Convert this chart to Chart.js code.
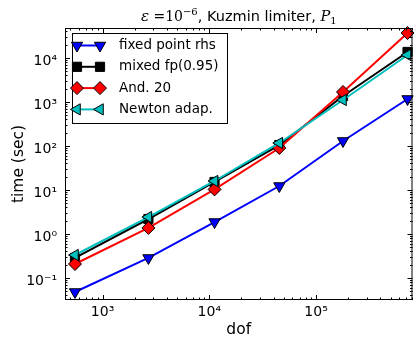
<!DOCTYPE html>
<html>
<head>
<meta charset="utf-8">
<script src="https://cdn.jsdelivr.net/npm/chart.js@4/dist/chart.umd.min.js"></script>
<style>
  html, body { margin: 0; padding: 0; background: #fff; }
</style>
</head>
<body>
<canvas id="timingChart" width="420" height="339"></canvas>
<script>
// degrees of freedom per refinement level
const dof = [552, 2690, 11200, 45300, 179000, 720000];

// wall time (sec) for each solver
const fixedPointRhs = [0.048, 0.285, 1.87, 12.3, 130, 1170];
const mixedFp = [0.285, 2.19, 15.2, 105, 1370, 13700];
const anderson20 = [0.208, 1.37, 10.3, 90, 1690, 37000];
const newtonAdap = [0.333, 2.43, 16, 117, 1110, 11700];

const xTicks = [1e3, 1e4, 1e5];
const yTicks = [1e-1, 1e0, 1e1, 1e2, 1e3, 1e4];

const SUP = { '0': '⁰', '1': '¹', '2': '²', '3': '³', '4': '⁴', '5': '⁵', '6': '⁶', '7': '⁷', '8': '⁸', '9': '⁹', '-': '⁻' };
function powerLabel(v) {
  const e = Math.round(Math.log10(v));
  return '10' + String(e).split('').map(c => SUP[c]).join('');
}

function series(values) {
  return values.map((v, i) => ({ x: dof[i], y: v }));
}

// inward major/minor ticks on all four sides, plus the frame
const frameTicks = {
  id: 'frameTicks',
  afterDatasetsDraw(chart) {
    const { ctx, chartArea: a, scales } = chart;
    ctx.save();
    ctx.strokeStyle = '#000';
    ctx.lineWidth = 1;
    ctx.strokeRect(a.left + 0.5, a.top + 0.5, a.right - a.left - 1, a.bottom - a.top - 1);

    const drawAxis = (scale, horizontal) => {
      const lo = Math.floor(Math.log10(scale.min));
      const hi = Math.ceil(Math.log10(scale.max));
      for (let e = lo; e <= hi; e++) {
        for (let m = 1; m < 10; m++) {
          const v = m * Math.pow(10, e);
          if (v < scale.min || v > scale.max) continue;
          const p = Math.round(scale.getPixelForValue(v)) + 0.5;
          const len = m === 1 ? 5 : 2.5;
          ctx.beginPath();
          if (horizontal) {
            ctx.moveTo(p, a.bottom); ctx.lineTo(p, a.bottom - len);
            ctx.moveTo(p, a.top); ctx.lineTo(p, a.top + len);
          } else {
            ctx.moveTo(a.left, p); ctx.lineTo(a.left + len, p);
            ctx.moveTo(a.right, p); ctx.lineTo(a.right - len, p);
          }
          ctx.stroke();
        }
      }
    };
    drawAxis(scales.x, true);
    drawAxis(scales.y, false);
    ctx.restore();
  }
};

// boxed legend with a short line between two markers
const boxLegend = {
  id: 'boxLegend',
  afterDraw(chart) {
    const { ctx } = chart;
    const left = 72, top = 33, width = 155, height = 90;
    ctx.save();
    ctx.fillStyle = '#fff';
    ctx.fillRect(left, top, width, height);
    ctx.strokeStyle = '#000';
    ctx.lineWidth = 1;
    ctx.strokeRect(left + 0.5, top + 0.5, width, height);

    chart.data.datasets.forEach((ds, i) => {
      const y = 45.5 + i * 21.3;
      const x0 = 77, x1 = 100;
      ctx.strokeStyle = ds.borderColor;
      ctx.lineWidth = ds.borderWidth;
      ctx.beginPath();
      ctx.moveTo(x0, y);
      ctx.lineTo(x1, y);
      ctx.stroke();
      [x0, x1].forEach(x => {
        ctx.fillStyle = ds.pointBackgroundColor;
        ctx.strokeStyle = ds.pointBorderColor;
        ctx.lineWidth = ds.pointBorderWidth;
        Chart.helpers.drawPoint(ctx, {
          pointStyle: ds.pointStyle,
          rotation: ds.pointRotation,
          radius: ds.pointRadius,
          borderWidth: ds.pointBorderWidth
        }, x, y);
      });
      ctx.fillStyle = '#000';
      ctx.font = '13.5px "DejaVu Sans"';
      ctx.textBaseline = 'middle';
      ctx.textAlign = 'left';
      ctx.fillText(ds.label, 119, y);
    });
    ctx.restore();
  }
};

// title with math parts set in serif italics
const mathTitle = {
  id: 'mathTitle',
  afterDraw(chart) {
    const { ctx, chartArea: a } = chart;
    const parts = [
      { t: 'ε', f: 'italic 15px "DejaVu Serif"', dy: 0 },
      { t: ' =10', f: '14px "DejaVu Serif"', dy: 0 },
      { t: '−6', f: '10px "DejaVu Serif"', dy: -6 },
      { t: ', Kuzmin limiter, ', f: '14.5px "DejaVu Sans"', dy: 0 },
      { t: 'P', f: 'italic 14.5px "DejaVu Serif"', dy: 0 },
      { t: '1', f: '10px "DejaVu Serif"', dy: 3 }
    ];
    ctx.save();
    ctx.fillStyle = '#000';
    ctx.textBaseline = 'alphabetic';
    ctx.textAlign = 'left';
    let total = 0;
    parts.forEach(p => { ctx.font = p.f; p.w = ctx.measureText(p.t).width; total += p.w; });
    let x = (a.left + a.right) / 2 - total / 2;
    const base = 21;
    parts.forEach(p => {
      ctx.font = p.f;
      ctx.fillText(p.t, x, base + p.dy);
      x += p.w;
    });
    ctx.restore();
  }
};

Chart.defaults.font.family = '"DejaVu Sans"';
Chart.defaults.color = '#000';

const ctx = document.getElementById('timingChart').getContext('2d');
const timingChart = new Chart(ctx, {
  type: 'line',
  data: {
    datasets: [
      {
        label: 'fixed point rhs',
        data: series(fixedPointRhs),
        borderColor: '#0000ff',
        pointBackgroundColor: '#0000ff',
        pointStyle: 'triangle',
        pointRotation: 180,
        pointRadius: 6.5,
        order: 4
      },
      {
        label: 'mixed fp(0.95)',
        data: series(mixedFp),
        borderColor: '#000000',
        pointBackgroundColor: '#000000',
        pointStyle: 'rect',
        pointRotation: 0,
        pointRadius: 6.5,
        order: 3
      },
      {
        label: 'And. 20',
        data: series(anderson20),
        borderColor: '#ff0000',
        pointBackgroundColor: '#ff0000',
        pointStyle: 'rectRot',
        pointRotation: 0,
        pointRadius: 6.5,
        order: 2
      },
      {
        label: 'Newton adap.',
        data: series(newtonAdap),
        borderColor: '#00bfbf',
        pointBackgroundColor: '#00bfbf',
        pointStyle: 'triangle',
        pointRotation: 270,
        pointRadius: 6.5,
        order: 1
      }
    ].map(ds => Object.assign({
      borderWidth: 2,
      pointBorderColor: '#000',
      pointBorderWidth: 1,
      pointHoverRadius: 6.5,
      tension: 0,
      clip: false
    }, ds))
  },
  options: {
    responsive: false,
    animation: false,
    layout: { padding: { top: 28, right: 1, left: 0, bottom: 0 } },
    plugins: {
      legend: { display: false },
      title: { display: false },
      tooltip: { enabled: false }
    },
    scales: {
      x: {
        type: 'logarithmic',
        min: 445,
        max: 801000,
        grid: { display: false, drawTicks: false },
        border: { display: false },
        afterBuildTicks: scale => { scale.ticks = xTicks.map(v => ({ value: v, major: true })); },
        afterFit: scale => { scale.height = 39; },
        ticks: {
          font: { size: 14 },
          padding: 4,
          maxRotation: 0,
          autoSkip: false,
          callback: v => powerLabel(v)
        },
        title: { display: true, text: 'dof', font: { size: 15.5 }, padding: { top: 0, bottom: 0 } }
      },
      y: {
        type: 'logarithmic',
        min: 0.0316,
        max: 48000,
        grid: { display: false, drawTicks: false },
        border: { display: false },
        afterBuildTicks: scale => { scale.ticks = yTicks.map(v => ({ value: v, major: true })); },
        afterFit: scale => { scale.width = 65; },
        ticks: {
          font: { size: 14 },
          padding: 8,
          labelOffset: 3,
          autoSkip: false,
          callback: v => powerLabel(v)
        },
        title: { display: true, text: 'time (sec)', font: { size: 15.5 }, padding: { top: 10, bottom: 0 } }
      }
    }
  },
  plugins: [frameTicks, boxLegend, mathTitle]
});
</script>
</body>
</html>
